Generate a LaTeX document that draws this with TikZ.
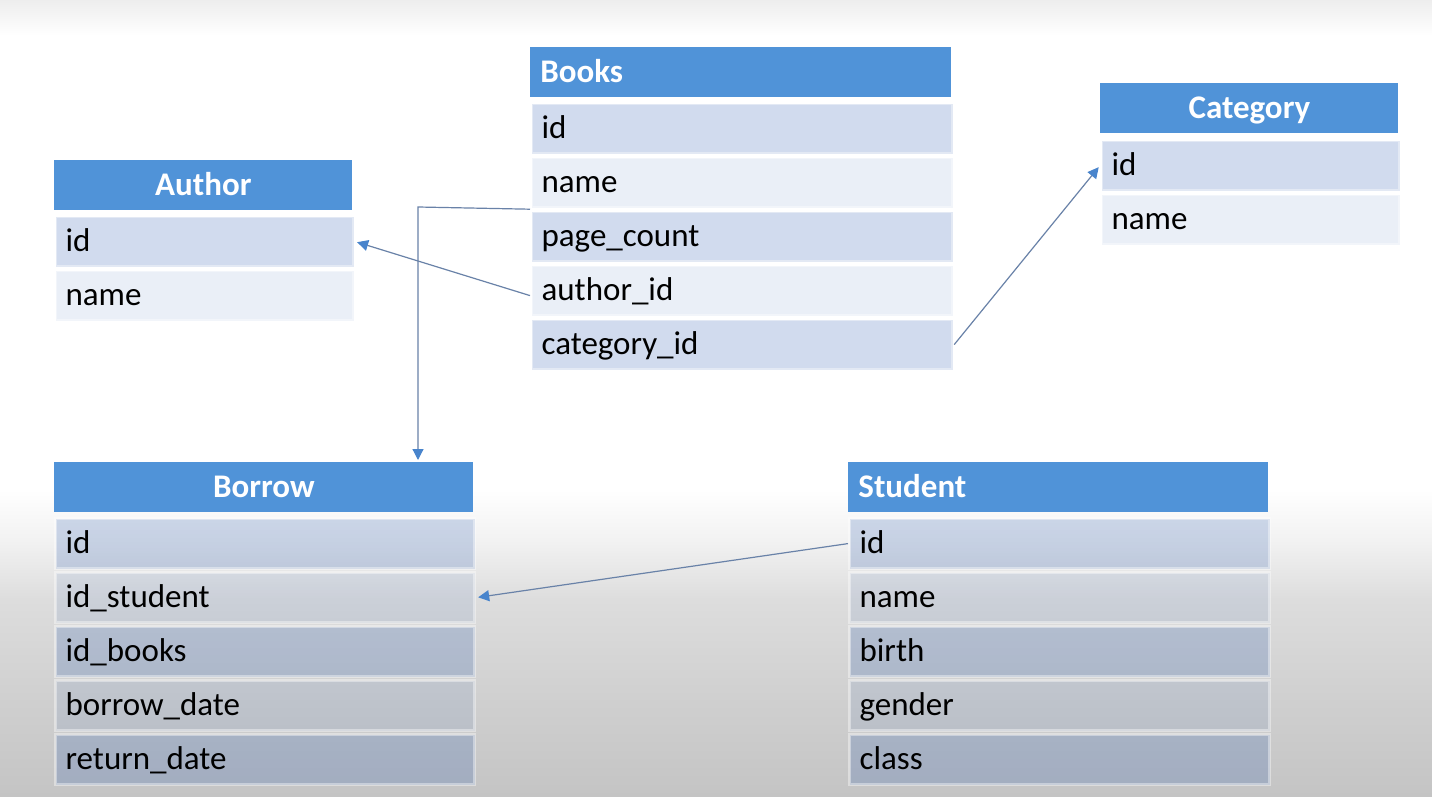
\documentclass[tikz,border=0pt]{standalone}
\usepackage{fontspec}
\setmainfont{Carlito}
\usetikzlibrary{arrows.meta}

\definecolor{hdrblue}{RGB}{80,147,216}
\definecolor{rowblue}{RGB}{25,78,170}
\definecolor{linkgray}{RGB}{105,130,168}
\definecolor{tipblue}{RGB}{72,132,204}
\definecolor{bgbot}{RGB}{196,196,196}
\definecolor{bgmid}{RGB}{221,221,221}
\definecolor{bgtop}{RGB}{237,237,237}

\newcommand\rowfont{\fontsize{16.5pt}{18pt}\selectfont}
\newcommand\hdrfont{\fontsize{16.5pt}{18pt}\selectfont\bfseries}

% background: white slide, grey towards the bottom
\pgfdeclareverticalshading{slidebg}{100bp}{color(0bp)=(bgbot); color(25bp)=(bgbot);
  color(31bp)=(bgbot!55!bgmid); color(37.4bp)=(bgmid); color(41bp)=(bgmid!40!white);
  color(44.3bp)=(white); color(72.8bp)=(white); color(75bp)=(bgtop); color(100bp)=(bgtop)}

\tikzset{
  tblcell/.style={rectangle, anchor=north west, inner xsep=5pt, inner ysep=0pt,
    text height=17.5pt, text depth=7.5pt, minimum height=25pt, text width=#1},
  tblhead/.style={tblcell=#1, fill=hdrblue, text=white, font=\hdrfont},
  tblrow/.style={tblcell=#1, font=\rowfont, text=black, draw=white, line width=1.6pt,
    draw opacity=0.4, text opacity=1, align=left},
  rowdark/.style={fill=rowblue, fill opacity=0.2},
  rowlight/.style={fill=rowblue, fill opacity=0.09},
  link/.style={draw=linkgray, line width=0.6pt, shorten >=1pt,
    -{Triangle[length=5.5pt,width=5.5pt,color=tipblue]}}
}

\begin{document}
\begin{tikzpicture}[x=0.5pt,y=-0.5pt]
  \shade[shading=slidebg] (0,0) rectangle (1432,797);
  % Books
  \node[tblhead=200.5pt, align=left] (books) at (530,47) {Books};
  \foreach \f/\band [count=\i] in {id/rowdark, name/rowlight, page\_count/rowdark,
      author\_id/rowlight, category\_id/rowdark}
    \node[tblrow=200.5pt, \band] (books-\i) at (530,{102+54*(\i-1)}) {\f};
  % Author
  \node[tblhead=139pt, align=center] (author) at (54,160) {Author};
  \foreach \f/\band [count=\i] in {id/rowdark, name/rowlight}
    \node[tblrow=139pt, \band] (author-\i) at (54,{215+54*(\i-1)}) {\f};
  % Category
  \node[tblhead=139pt, align=center] (category) at (1100,83) {Category};
  \foreach \f/\band [count=\i] in {id/rowdark, name/rowlight}
    \node[tblrow=139pt, \band] (category-\i) at (1100,{139+54*(\i-1)}) {\f};
  % Borrow
  \node[tblhead=199.5pt, align=center] (borrow) at (54,462) {Borrow};
  \foreach \f/\band [count=\i] in {id/rowdark, id\_student/rowlight, id\_books/rowdark,
      borrow\_date/rowlight, return\_date/rowdark}
    \node[tblrow=199.5pt, \band] (borrow-\i) at (54,{517+54*(\i-1)}) {\f};
  % Student
  \node[tblhead=200pt, align=left] (student) at (848,462) {Student};
  \foreach \f/\band [count=\i] in {id/rowdark, name/rowlight, birth/rowdark,
      gender/rowlight, class/rowdark}
    \node[tblrow=200pt, \band] (student-\i) at (848,{517+54*(\i-1)}) {\f};

  % relations
  \coordinate (drop) at (418,207);
  \draw[link] (books-2.south west) -- (drop) -- (drop |- borrow.north);
  \draw[link] ([yshift=-2.5pt]books-4.west) -- (author-1.east);
  \draw[link] (books-5.east) -- (category-1.west);
  \draw[link] (student-1.west) -- (borrow-2.east);
\end{tikzpicture}
\end{document}
